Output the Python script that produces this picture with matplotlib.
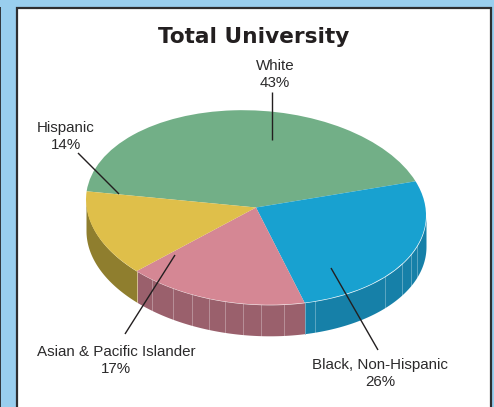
import numpy as np
import matplotlib
matplotlib.use('Agg')
import matplotlib.pyplot as plt
from matplotlib.patches import Rectangle
from matplotlib.transforms import Affine2D

#chart data, clockwise from the white/hispanic edge
groups = ['White', 'Black, Non-Hispanic', 'Asian & Pacific Islander', 'Hispanic']
shares = [43, 26, 17, 14]
top_colors = ['#72AF87', '#18A1D0', '#D58794', '#DFBF4A']
side_colors = ['#5E8F6E', '#1680A8', '#9A606C', '#8F7E2E']
title = 'Total University'

W, H = 494, 407
plt.rcParams['font.family'] = ['Liberation Sans', 'DejaVu Sans']
fig = plt.figure(figsize=(W / 100, H / 100), dpi=100, facecolor='#99CEEE')

#background axes in pixels, y going down like the picture
bg = fig.add_axes([0, 0, 1, 1])
bg.set_xlim(0, W)
bg.set_ylim(H, 0)
bg.axis('off')
bg.add_patch(Rectangle((0, 7), 1.3, H, color='#33393F', lw=0))
bg.add_patch(Rectangle((17, 7.7), 474.3, H, fc='white', ec='#2E2E30', lw=1.6))

#pie axes covers the top face only, the ellipse comes from the stretched axes
cx, cy, rx, ry = 256, 207.5, 170, 97
depth = 31 / ry
start = 175
tilt = -0.08
ax = fig.add_axes([(cx - rx) / W, (H - cy - ry) / H, 2 * rx / W, 2 * ry / H])
ax.pie(shares, colors=top_colors, startangle=start, counterclock=False, radius=1,
       wedgeprops={'linewidth': 0}, normalize=True)
ax.set_aspect('auto')
ax.set_xlim(-1, 1)
ax.set_ylim(-1, 1)
#the pie leans a little, right side lower than left
lean = Affine2D.from_values(1, tilt, 0, 1, 0, 0) + ax.transData
for p in ax.patches:
    p.set_transform(lean)
    p.set_zorder(3)
    p.set_clip_on(False)

#side wall of the pie, only the part facing the viewer
edges = start - np.cumsum([0] + shares) * 3.6
for i in range(len(shares)):
    t0, t1 = edges[i], edges[i + 1]
    t = np.radians(np.linspace(t0, t1, 120))
    t = t[np.sin(t) <= 0.0]
    if len(t) == 0:
        continue
    ax.fill_between(np.cos(t), np.sin(t), np.sin(t) - depth, color=side_colors[i],
                    lw=0, zorder=2, clip_on=False, transform=lean)

#thin light slats on the wall, x
slat_x = [152, 173, 192, 209, 225, 243, 261, 284, 315, 385, 402, 411, 417]
for x in slat_x:
    u = (x - cx) / rx
    v = -np.sqrt(1 - u * u)
    ax.plot([u, u], [v, v - depth], color='white', alpha=0.3, lw=0.7, zorder=2.5,
            clip_on=False, transform=lean)

#wall edges at the slice borders
for k, col in [(2, '#8FB8CC'), (3, '#E8DDA0')]:
    u = np.cos(np.radians(edges[k]))
    v = np.sin(np.radians(edges[k]))
    ax.plot([u, u], [v, v - depth], color=col, alpha=0.7, lw=0.7, zorder=2.6,
            clip_on=False, transform=lean)

#text and leader lines go on an overlay above the pie
top = fig.add_axes([0, 0, 1, 1], facecolor='none')
top.set_xlim(0, W)
top.set_ylim(H, 0)
top.axis('off')

top.text(253.5, 43, title, family='DejaVu Sans', weight='bold', fontsize=15.6,
         ha='center', va='baseline', color='#231F20')

label_text = [groups[0] + '\n' + str(shares[0]) + '%',
              groups[1] + '\n' + str(shares[1]) + '%',
              groups[2] + '\n' + str(shares[2]) + '%',
              groups[3] + '\n' + str(shares[3]) + '%']
label_pos = [(275, 87), (380, 386), (116, 373), (66, 149)]
for s, (x, y) in zip(label_text, label_pos):
    top.text(x, y, s, fontsize=10.9, ha='center', va='baseline', color='#2B2A2B',
             linespacing=1.3, multialignment='center')

leaders = [((272, 92), (272, 140)), ((331, 268), (378, 350)),
           ((175, 255), (125, 334)), ((78, 153), (119, 194))]
for a, b in leaders:
    top.plot([a[0], b[0]], [a[1], b[1]], color='#231F20', lw=1.0, solid_capstyle='butt')

fig.savefig('out.png', dpi=100, facecolor=fig.get_facecolor())
